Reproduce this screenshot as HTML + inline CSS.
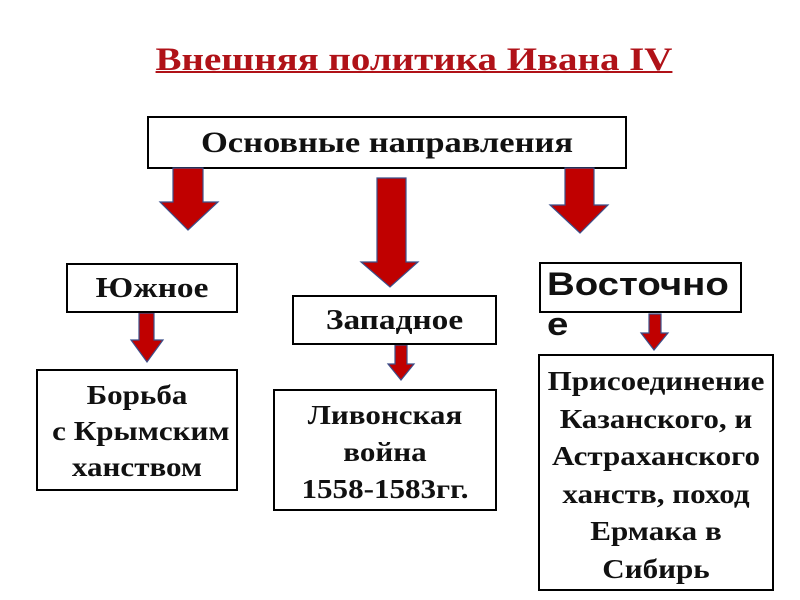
<!DOCTYPE html>
<html><head><meta charset="utf-8"><style>
body{margin:0;width:800px;height:600px;background:#fff;position:relative;overflow:hidden;font-family:"Liberation Serif",serif}
.b{position:absolute;border:2px solid #000;box-sizing:border-box;background:#fff;font-weight:bold;text-align:center;color:#111}
.s{transform:scaleX(1.15);transform-origin:center;white-space:nowrap}
</style></head><body>
<div style="position:absolute;left:114px;top:42px;width:600px;text-align:center;color:#b01218;font-weight:bold;font-size:33px;text-decoration:underline;text-decoration-thickness:2px;transform:scaleX(1.18);white-space:nowrap">Внешняя политика Ивана IV</div>
<div class="b" style="left:147px;top:116px;width:480px;height:53px;font-size:30px;line-height:49px"><div class="s">Основные направления</div></div>
<svg width="800" height="600" style="position:absolute;left:0;top:0">
<g fill="#c00000" stroke="#3b4f8a" stroke-width="1.2">
<polygon points="173,168 203,168 203,202 218,202 188,230 160,202 173,202"/>
<polygon points="377,178 406,178 406,262 418,262 390,287 361,262 377,262"/>
<polygon points="565,168 594,168 594,205 608,205 580,233 550,205 565,205"/>
<polygon points="139,313 154,313 154,340 163,340 147,362 131,340 139,340"/>
<polygon points="395,345 407,345 407,364 414,364 401,380 388,364 395,364"/>
<polygon points="649,314 661,314 661,333 668,333 654,350 641,333 649,333"/>
</g></svg>
<div class="b" style="left:66px;top:263px;width:172px;height:50px;font-size:29px;line-height:46px"><div class="s">Южное</div></div>
<div class="b" style="left:292px;top:295px;width:205px;height:50px;font-size:29px;line-height:46px"><div class="s">Западное</div></div>
<div class="b" style="left:539px;top:262px;width:203px;height:51px;font-family:'Liberation Sans',sans-serif;font-size:32px;line-height:40px;text-align:left;padding-left:6px;overflow:visible;background:transparent"><div style="transform:scaleX(1.2);transform-origin:left;white-space:nowrap">Восточно<br>е</div></div>
<div class="b" style="left:36px;top:369px;width:202px;height:122px;font-size:27px;line-height:36px;padding-top:6px"><div class="s">Борьба<br>&nbsp;с Крымским<br>ханством</div></div>
<div class="b" style="left:273px;top:389px;width:224px;height:122px;font-size:27px;line-height:37px;padding-top:6px"><div class="s">Ливонская<br>война<br>1558-1583гг.</div></div>
<div class="b" style="left:538px;top:354px;width:236px;height:237px;font-size:27px;line-height:37.5px;padding-top:7px"><div class="s">Присоединение<br>Казанского, и<br>Астраханского<br>ханств, поход<br>Ермака в<br>Сибирь</div></div>
</body></html>
